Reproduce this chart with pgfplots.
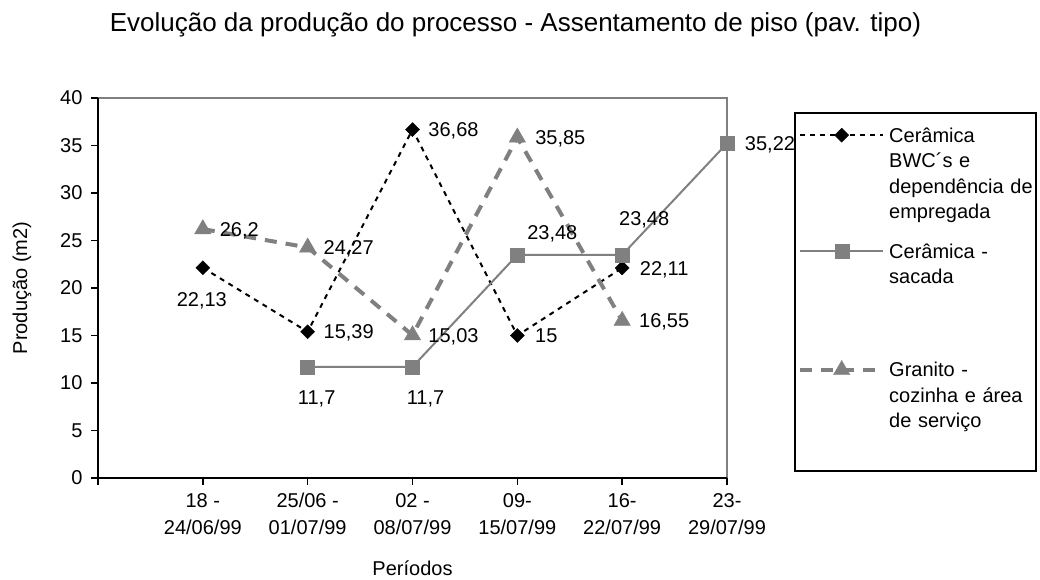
\documentclass[border=0pt]{standalone}
\usepackage{fontspec}
\setmainfont{Liberation Sans}
\usepackage{pgfplots}
\usepackage{pgfplotstable}
\pgfplotsset{compat=1.18}
\definecolor{sgray}{RGB}{128,128,128}

\pgfplotstableread{
x y lab dx dy
1 22.13 22,13 -1 -32
2 15.39 15,39 41 0
3 36.68 36,68 41 0
4 15 15 29 0
5 22.11 22,11 42 0
}\tabA
\pgfplotstableread{
x y lab dx dy
2 11.7 11,7 9 -30
3 11.7 11,7 13 -30
4 23.48 23,48 35 23
5 23.48 23,48 22 37
6 35.22 35,22 43 0
}\tabB
\pgfplotstableread{
x y lab dx dy
1 26.2 26,2 36.5 0
2 24.27 24,27 41 0
3 15.03 15,03 41 0
4 35.85 35,85 43 0
5 16.55 16,55 42 0
}\tabC

\begin{document}
\begin{tikzpicture}[x=1pt,y=1pt]
\useasboundingbox (0,0) rectangle (1040,580);
\begin{axis}[
  at={(98pt,102pt)}, anchor=south west,
  scale only axis, width=629pt, height=380pt,
  xmin=0, xmax=6, ymin=0, ymax=40,
  clip=false,
  axis x line*=bottom, axis y line*=left,
  axis line style={black, line width=2pt},
  axis background/.style={draw=sgray, line width=2pt},
  tick align=outside, major tick length=7pt,
  tick style={black, line width=1.5pt},
  xtick={0,...,6}, ytick={0,5,...,40},
  xticklabels={,{\strut 18 -\\24/06/99},{\strut 25/06 -\\01/07/99},{\strut 02 -\\08/07/99},{\strut 09-\\15/07/99},{\strut 16-\\22/07/99},{\strut 23-\\29/07/99}},
  /pgf/number format/assume math mode=true,
  tick label style={font=\fontsize{20}{27}\selectfont},
  xticklabel style={align=center, inner sep=3pt},
  yticklabel style={xshift=-5pt},
  title={Evolução da produção do processo - Assentamento de piso (pav. tipo)},
  every axis title shift=0pt,
  title style={at={(rel axis cs:0.66375,1.17368)}, anchor=base, font=\fontsize{26}{30}\selectfont},
  xlabel={Períodos},
  xlabel style={at={(rel axis cs:0.5,-0.23684)}, anchor=center, font=\fontsize{20}{24}\selectfont},
  ylabel={Produção (m2)},
  ylabel style={at={(rel axis cs:-0.12083,0.5)}, anchor=center, font=\fontsize{20}{24}\selectfont},
  legend style={at={(rel axis cs:1.11288,0.92105)}, anchor=north west, draw=none, fill=none,
    inner sep=0pt, row sep=0pt, column sep=4pt, font=\fontsize{20}{25.5}\selectfont,
    nodes={inner sep=0pt, align=left}, cells={anchor=base west}},
  legend image code/.code={\draw[#1, mark repeat=2, mark phase=2] plot coordinates {(0pt,7pt)(41.5pt,7pt)(83pt,7pt)};},
  every node near coord/.append style={anchor=center, xshift=\dx pt, yshift=\dy pt, inner sep=0pt, text=black,
    font=\fontsize{20}{24}\selectfont, text height=14.4pt, text depth=0pt},
]
\addplot[black, line width=2pt, dash pattern=on 5pt off 5pt, mark=diamond*, mark size=7pt,
  mark options={solid, xscale=1.333, fill=black, line width=0.4pt},
  nodes near coords, point meta=explicit symbolic,
  visualization depends on={\thisrow{dx}\as\dx},
  visualization depends on={\thisrow{dy}\as\dy}]
  table[x=x, y=y, meta=lab]{\tabA};
\addlegendentry[text width=150pt, text height=14pt, text depth=102pt]{Cerâmica\\BWC´s e\\dependência de\\empregada}
\addplot[sgray, line width=2pt, mark=square*, mark size=7pt,
  mark options={solid, fill=sgray, line width=0.4pt},
  nodes near coords, point meta=explicit symbolic,
  visualization depends on={\thisrow{dx}\as\dx},
  visualization depends on={\thisrow{dy}\as\dy}]
  table[x=x, y=y, meta=lab]{\tabB};
\addlegendentry[text width=150pt, text height=14pt, text depth=102.3pt]{Cerâmica -\\sacada}
\addplot[sgray, line width=4pt, dash pattern=on 12pt off 9pt, mark=triangle*, mark size=9.5pt,
  mark options={solid, fill=sgray, line width=0.4pt},
  nodes near coords, point meta=explicit symbolic,
  visualization depends on={\thisrow{dx}\as\dx},
  visualization depends on={\thisrow{dy}\as\dy}]
  table[x=x, y=y, meta=lab]{\tabC};
\addlegendentry[text width=150pt, text height=14pt, text depth=40pt]{Granito -\\cozinha e área\\de serviço}
\end{axis}
\draw[line width=2pt] (795,109) rectangle (1036,467);
\end{tikzpicture}
\end{document}
